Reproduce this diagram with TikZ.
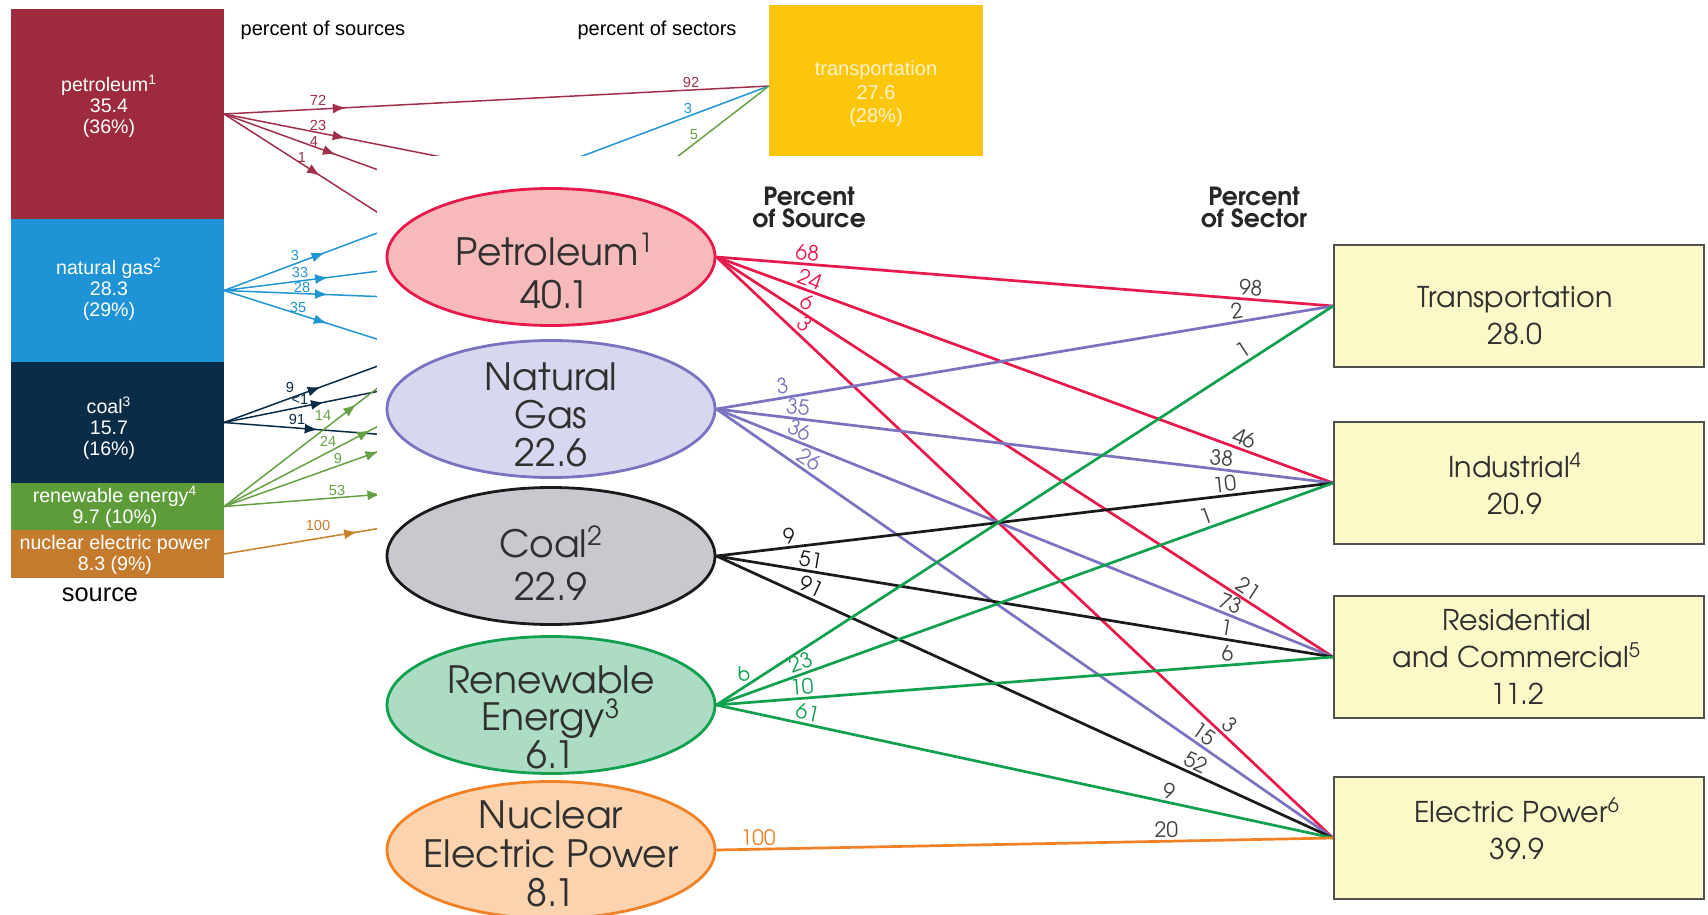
\documentclass[tikz,border=0pt]{standalone}
\usepackage{fontspec}
\setmainfont{Liberation Sans}
\newfontfamily\gothic{TeX Gyre Adventor}
\usetikzlibrary{shapes.geometric,decorations.markings,arrows.meta}
\definecolor{bPet}{HTML}{9D2B3D}
\definecolor{bGas}{HTML}{1E93D5}
\definecolor{bCoal}{HTML}{0A2C47}
\definecolor{bRen}{HTML}{5E9C3A}
\definecolor{bNuc}{HTML}{C47B2E}
\definecolor{bTra}{HTML}{FEC60B}
\definecolor{cPetL}{HTML}{A0304A}
\definecolor{cGasL}{HTML}{2196D3}
\definecolor{cCoalL}{HTML}{0A2C47}
\definecolor{cRenL}{HTML}{65A244}
\definecolor{cNucL}{HTML}{C8802E}
\definecolor{fPetL}{HTML}{E8194B}
\definecolor{fPetF}{HTML}{F6BABA}
\definecolor{fGasL}{HTML}{7A73C0}
\definecolor{fGasF}{HTML}{D8D7F0}
\definecolor{fCoalL}{HTML}{1A1A1A}
\definecolor{fCoalF}{HTML}{C8C8CF}
\definecolor{fRenL}{HTML}{10A04E}
\definecolor{fRenF}{HTML}{ACDCC3}
\definecolor{fNucL}{HTML}{F28024}
\definecolor{fNucF}{HTML}{FBD4AF}
\definecolor{boxF}{HTML}{FBF9C8}
\definecolor{boxD}{HTML}{505050}
\definecolor{ftext}{HTML}{303030}
\definecolor{labgray}{HTML}{404040}
\tikzset{
  bbox/.style={rectangle, inner sep=0pt, outer sep=0pt},
  btxt/.style={text=white, align=center, font=\fontsize{9.8}{10.5}\selectfont, inner sep=0pt},
  blab/.style={font=\fontsize{7.3}{7.3}\selectfont, inner sep=0pt},
  bline/.style={line width=0.75pt},
  barrow/.style={postaction={decorate}, decoration={markings, mark=at position #1 with {\arrow{Latex[length=6.5pt,width=5pt]}}}},
  fell/.style={ellipse, line width=1.4pt, minimum width=164pt, minimum height=68.5pt, inner sep=0pt},
  ftxt/.style={text=ftext, align=center, inner sep=0pt, font=\gothic\fontsize{18.8}{#1}\selectfont},
  fbox/.style={rectangle, draw=boxD, fill=boxF, line width=0.9pt, minimum width=185pt, minimum height=61pt, inner sep=0pt},
  fbtxt/.style={align=center, text=ftext, inner sep=0pt, font=\gothic\fontsize{14.3}{18.5}\selectfont},
  fline/.style={line width=1.35pt},
  slab/.style={sloped, above, inner sep=1.2pt, font=\gothic\fontsize{10.5}{10.5}\selectfont},
  elab/.style={slab, text=labgray},
  fhead/.style={align=center, text=black!85, inner sep=0pt, font=\gothic\bfseries\fontsize{12.5}{11}\selectfont},
}
\begin{document}
\begin{tikzpicture}[x=0.5pt,y=-0.5pt]
\useasboundingbox (0,0) rectangle (1708,915);
\fill[white] (0,0) rectangle (1708,915);
% ---------------- back diagram ----------------
\node[bbox, fill=bPet, minimum width=106.5pt, minimum height=105pt] (bPet) at (117.5,114) {};
\node[bbox, fill=bGas, minimum width=106.5pt, minimum height=71.5pt] (bGas) at (117.5,290.5) {};
\node[bbox, fill=bCoal, minimum width=106.5pt, minimum height=60.5pt] (bCoal) at (117.5,422.5) {};
\node[bbox, fill=bRen, minimum width=106.5pt, minimum height=23.5pt] (bRen) at (117.5,506.5) {};
\node[bbox, fill=bNuc, minimum width=106.5pt, minimum height=24pt] (bNuc) at (117.5,554) {};
\node[btxt] (bPetT) at (109,106) {petroleum\textsuperscript{1}\\35.4\\(36\%)};
\node[btxt] (bGasT) at (109,289) {natural gas\textsuperscript{2}\\28.3\\(29\%)};
\node[btxt] (bCoalT) at (109,428) {coal\textsuperscript{3}\\15.7\\(16\%)};
\node[btxt] (bRenT) at (115,507) {renewable energy\textsuperscript{4}\\9.7 (10\%)};
\node[btxt] (bNucT) at (115,555) {nuclear electric power\\8.3 (9\%)};
\node[font=\fontsize{12.7}{12.7}\selectfont, inner sep=0pt] (bSrc) at (100,595) {source};
\node[font=\fontsize{10}{10}\selectfont, inner sep=0pt] (bHs) at (323,30) {percent of sources};
\node[font=\fontsize{10}{10}\selectfont, inner sep=0pt] (bHt) at (657,30) {percent of sectors};
\node[bbox, fill=bTra, minimum width=107pt, minimum height=76pt] (bTra) at (876,81) {};
\node[btxt, text=white!80!bTra, font=\fontsize{10}{11.7}\selectfont] (bTraT) at (876,94) {transportation\\27.6\\(28\%)};
\coordinate (tTraB) at (769,86);
\coordinate (tIndB) at (770,222);
\coordinate (tResB) at (770,312);
\coordinate (tEleB) at (770,464);
% petroleum
\draw[bline, cPetL, barrow=61pt] (bPet.east) -- (tTraB);
\draw[bline, cPetL, barrow=62pt] (bPet.east) -- (tIndB);
\draw[bline, cPetL, barrow=59.5pt] (bPet.east) -- (tResB);
\draw[bline, cPetL, barrow=57pt] (bPet.east) -- (tEleB);
% natural gas
\draw[bline, cGasL, barrow=53.7pt] (bGas.east) -- (tTraB);
\draw[bline, cGasL, barrow=52.5pt] (bGas.east) -- (tIndB);
\draw[bline, cGasL, barrow=52pt] (bGas.east) -- (tResB);
\draw[bline, cGasL, barrow=54pt] (bGas.east) -- (tEleB);
% coal
\draw[bline, cCoalL, barrow=51.5pt] (bCoal.east) -- (tIndB);
\draw[bline, cCoalL, barrow=51pt] (bCoal.east) -- (tResB);
\draw[bline, cCoalL, barrow=47pt] (bCoal.east) -- (tEleB);
% renewable
\draw[bline, cRenL, barrow=83.5pt] (bRen.east) -- (tTraB);
\draw[bline, cRenL, barrow=82.5pt] (bRen.east) -- (tIndB);
\draw[bline, cRenL, barrow=82pt] (bRen.east) -- (tResB);
\draw[bline, cRenL, barrow=78.5pt] (bRen.east) -- (tEleB);
% nuclear
\draw[bline, cNucL, barrow=67.5pt] (bNuc.east) -- (tEleB);
% back labels
\node[blab, cPetL] (l1) at (318,100) {72};
\node[blab, cPetL] (l2) at (318,125) {23};
\node[blab, cPetL] (l3) at (314,141) {4};
\node[blab, cPetL] (l4) at (302,157) {1};
\node[blab, cGasL] (l5) at (295,255) {3};
\node[blab, cGasL] (l6) at (300,272) {33};
\node[blab, cGasL] (l7) at (302,287) {28};
\node[blab, cGasL] (l8) at (298,307) {35};
\node[blab, cCoalL] (l9) at (290,387) {9};
\node[blab, cCoalL] (l10) at (300,399) {<1};
\node[blab, cCoalL] (l11) at (297,419) {91};
\node[blab, cRenL] (l12) at (323,415) {14};
\node[blab, cRenL] (l13) at (328,441) {24};
\node[blab, cRenL] (l14) at (338,458) {9};
\node[blab, cRenL] (l15) at (337,490) {53};
\node[blab, cNucL] (l16) at (318,525) {100};
\node[blab, cPetL] (l17) at (691,82) {92};
\node[blab, cGasL] (l18) at (688,108) {3};
\node[blab, cRenL] (l19) at (694,135) {5};
% ---------------- front panel ----------------
\fill[white] (377,156) rectangle (1708,915);
\node[fhead] (hSrc) at (809,207) {Percent\\of Source};
\node[fhead] (hSec) at (1254,207) {Percent\\of Sector};
\coordinate (fPetC) at (551,257);
\coordinate (fGasC) at (551,409);
\coordinate (fCoalC) at (551,556);
\coordinate (fRenC) at (551,705);
\coordinate (fNucC) at (551,850);
\node[fell, draw=fPetL, fill=fPetF] (fPet) at (fPetC) {};
\node[fell, draw=fGasL, fill=fGasF] (fGas) at (fGasC) {};
\node[fell, draw=fCoalL, fill=fCoalF] (fCoal) at (fCoalC) {};
\node[fell, draw=fRenL, fill=fRenF] (fRen) at (fRenC) {};
\node[fell, draw=fNucL, fill=fNucF] (fNuc) at (fNucC) {};
\node[fbox] (fTra) at (1519,306) {};
\node[fbox] (fInd) at (1519,483) {};
\node[fbox] (fRes) at (1519,657) {};
\node[fbox] (fEle) at (1519,838) {};
\node[fbtxt] (fTraT) at (1515,316) {Transportation\\28.0};
\node[fbtxt] (fIndT) at (1515,484) {Industrial\textsuperscript{4}\\20.9};
\node[fbtxt] (fResT) at (1517,657) {Residential\\and Commercial\textsuperscript{5}\\11.2};
\node[fbtxt] (fEleT) at (1517,829) {Electric Power\textsuperscript{6}\\39.9};
% petroleum lines
\draw[fline, fPetL] (fPet.east) -- node[slab, pos=0.146, text=fPetL]{68} node[elab, pos=0.865]{98} (fTra.west);
\draw[fline, fPetL] (fPet.east) -- node[slab, pos=0.146, text=fPetL]{24} node[elab, pos=0.85]{46} (fInd.west);
\draw[fline, fPetL] (fPet.east) -- node[slab, pos=0.137, text=fPetL]{6} node[elab, pos=0.853]{21} (fRes.west);
\draw[fline, fPetL] (fPet.east) -- node[slab, pos=0.13, text=fPetL]{3} node[elab, pos=0.82]{3} (fEle.west);
% natural gas lines
\draw[fline, fGasL] (fGas.east) -- node[slab, pos=0.11, text=fGasL]{3} node[elab, pos=0.847]{2} (fTra.west);
\draw[fline, fGasL] (fGas.east) -- node[slab, pos=0.13, text=fGasL]{35} node[elab, pos=0.817]{38} (fInd.west);
\draw[fline, fGasL] (fGas.east) -- node[slab, pos=0.128, text=fGasL]{36} node[elab, pos=0.827]{73} (fRes.west);
\draw[fline, fGasL] (fGas.east) -- node[slab, pos=0.14, text=fGasL]{26} node[elab, pos=0.78]{15} (fEle.west);
% coal lines
\draw[fline, fCoalL] (fCoal.east) -- node[slab, pos=0.12, text=fCoalL]{9} node[elab, pos=0.826]{10} (fInd.west);
\draw[fline, fCoalL] (fCoal.east) -- node[slab, pos=0.15, text=fCoalL]{51} node[elab, pos=0.824]{1} (fRes.west);
\draw[fline, fCoalL] (fCoal.east) -- node[slab, pos=0.146, text=fCoalL]{91} node[elab, pos=0.77]{52} (fEle.west);
% renewable lines
\draw[fline, fRenL] (fRen.east) -- node[slab, pos=0.054, text=fRenL]{6} node[elab, pos=0.865]{1} (fTra.west);
\draw[fline, fRenL] (fRen.east) -- node[slab, pos=0.144, text=fRenL]{23} node[elab, pos=0.8]{1} (fInd.west);
\draw[fline, fRenL] (fRen.east) -- node[slab, pos=0.14, text=fRenL]{10} node[elab, pos=0.83]{6} (fRes.west);
\draw[fline, fRenL] (fRen.east) -- node[slab, pos=0.144, text=fRenL]{61} node[elab, pos=0.73]{9} (fEle.west);
% nuclear line
\draw[fline, fNucL] (fNuc.east) -- node[slab, pos=0.068, text=fNucL]{100} node[elab, pos=0.73]{20} (fEle.west);
% ellipse texts
\node[ftxt=21.5] (fPetT) at (555,271) {Petroleum\textsuperscript{1}\\40.1};
\node[ftxt=19] (fGasT) at (551,415) {Natural\\Gas\\22.6};
\node[ftxt=21.5] (fCoalT) at (551,563) {Coal\textsuperscript{2}\\22.9};
\node[ftxt=18.8] (fRenT) at (551,717) {Renewable\\Energy\textsuperscript{3}\\6.1};
\node[ftxt=19.5] (fNucT) at (551,854) {Nuclear\\Electric Power\\8.1};
\end{tikzpicture}
\end{document}
